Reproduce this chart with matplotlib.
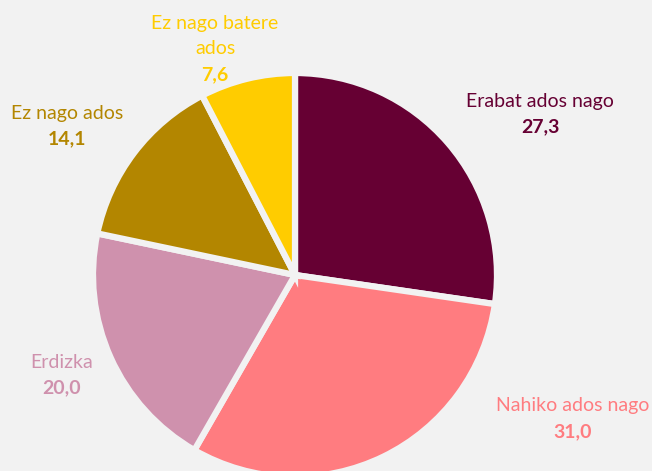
import matplotlib
matplotlib.use("Agg")
import matplotlib.pyplot as plt

categories = ["Erabat ados nago", "Nahiko ados nago", "Erdizka", "Ez nago ados", "Ez nago batere\nados"]
values = [27.3, 31.0, 20.0, 14.1, 7.6]
colors = ["#660033", "#FF7C80", "#CF91AD", "#B38600", "#FFCC00"]
bg = "#F2F2F2"

W, H = 652, 471
fig = plt.figure(figsize=(W / 100, H / 100), dpi=100, facecolor=bg)
ax = fig.add_axes([0, 0, 1, 1])
ax.set_facecolor(bg)

cx, cy, r = 295, H - 275, 202
ax.pie(values, colors=colors, startangle=90, counterclock=False,
       center=(cx, cy), radius=r, frame=True,
       wedgeprops=dict(edgecolor=bg, linewidth=4.5))
ax.set_xlim(0, W)
ax.set_ylim(0, H)
ax.set_aspect("equal")
ax.axis("off")

# label anchor (pixel coords, top-down): center x, y of the value line
label_pos = [(540, 127), (573, 432), (62, 388), (67, 139), (215, 75)]
font = "Lato"
for cat, v, c, (lx, ly) in zip(categories, values, colors, label_pos):
    lines = cat.split("\n")
    for i, line in enumerate(reversed(lines)):
        ax.text(lx, H - (ly - 26 * (i + 1)), line, ha="center", va="center",
                color=c, fontsize=14, family=font)
    ax.text(lx, H - ly, f"{v:.1f}".replace(".", ","), ha="center", va="center",
            color=c, fontsize=14, family=font, fontweight="bold")

fig.savefig("out.png", dpi=100, facecolor=bg)
